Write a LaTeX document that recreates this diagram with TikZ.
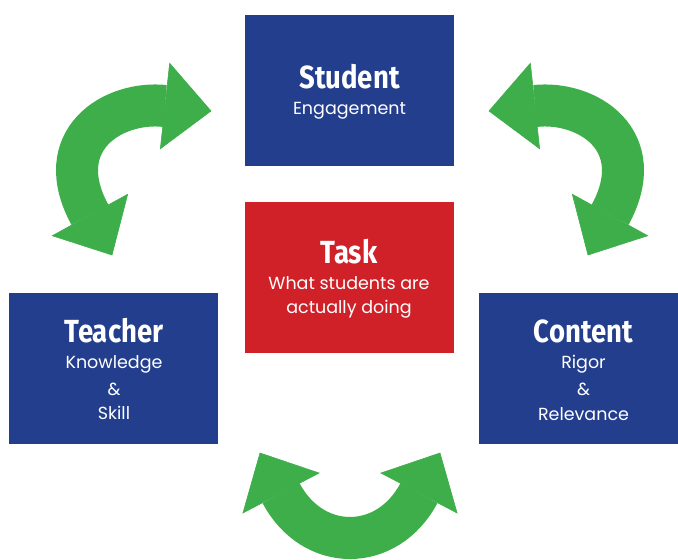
\documentclass[tikz,border=0pt]{standalone}
\usepackage{fontspec}
\setmainfont{Poppins}
\newfontfamily\headfont{Fira Sans}[FakeStretch=0.86]
\usetikzlibrary{calc}
\definecolor{boxblue}{RGB}{35,62,140}
\definecolor{boxred}{RGB}{209,33,40}
\definecolor{arrowgreen}{RGB}{61,174,73}

\begin{document}
\begin{tikzpicture}[x=1pt,y=-1pt,
  panel/.style={fill=#1, draw=none, minimum width=209pt, minimum height=151pt,
    inner sep=0pt, outer sep=0pt},
  heading/.style={text=white, font=\headfont\bfseries\fontsize{32}{32}\selectfont,
    anchor=base, inner sep=0pt},
  caption/.style={text=white, font=\fontsize{17.5}{24}\selectfont,
    anchor=base, inner sep=0pt},
  shaft/.style={draw=arrowgreen, line width=42pt, line cap=butt},
  head/.style={fill=arrowgreen, draw=arrowgreen, line width=0.6pt, line join=miter}
]
\useasboundingbox (0,0) rectangle (678,560);
\clip (0,0) rectangle (678,560);

% the four panels
\node[panel=boxblue] (student) at (349.5,90.5) {};
\node[panel=boxred]  (task)    at (349,277)    {};
\node[panel=boxblue] (teacher) at (113.5,368)  {};
\node[panel=boxblue] (content) at (583.5,368)  {};

% panel texts
\node[heading] (student-h) at (349.5,88) {Student};
\node[caption] (student-c) at (349.5,114) {Engagement};

\node[heading] (task-h)  at (349,263) {Task};
\node[caption] (task-c1) at (349,289) {What students are};
\node[caption] (task-c2) at (349,313) {actually doing};

\node[heading] (teacher-h)  at (114,342) {Teacher};
\node[caption] (teacher-c1) at (114,368) {Knowledge};
\node[caption] (teacher-c2) at (114,395) {\&};
\node[caption] (teacher-c3) at (114,419) {Skill};

\node[heading] (content-h)  at (583.5,342) {Content};
\node[caption] (content-c1) at (583.5,368) {Rigor};
\node[caption] (content-c2) at (583.5,395) {\&};
\node[caption] (content-c3) at (583.5,420) {Relevance};

% bent double-headed arrows: shaft between the two head bases, then the heads
\newcommand\bentarrow[1]{%
  \draw[shaft] (#1-ba) .. controls (#1-c1) and (#1-c2) .. (#1-bb);
  \filldraw[head] (#1-ta) -- ($(#1-ba)!43pt!90:(#1-ta)$) -- ($(#1-ba)!43pt!-90:(#1-ta)$) -- cycle;
  \filldraw[head] (#1-tb) -- ($(#1-bb)!43pt!90:(#1-tb)$) -- ($(#1-bb)!43pt!-90:(#1-tb)$) -- cycle;
}

% teacher <-> student
\coordinate (ts-ta) at (112,255);
\coordinate (ts-ba) at (90,215);
\coordinate (ts-c1) at (49.2,140.2);
\coordinate (ts-c2) at (113,100.3);
\coordinate (ts-bb) at (165,106);
\coordinate (ts-tb) at (211,111);
\bentarrow{ts}

% student <-> content
\coordinate (sc-ta) at (588,255);
\coordinate (sc-ba) at (610,215);
\coordinate (sc-c1) at (650.8,140.2);
\coordinate (sc-c2) at (587,100.3);
\coordinate (sc-bb) at (535,106);
\coordinate (sc-tb) at (489,111);
\bentarrow{sc}

% teacher <-> content (below the task)
\coordinate (tc-ta) at (260,453);
\coordinate (tc-ba) at (281,493);
\coordinate (tc-c1) at (312.7,553);
\coordinate (tc-c2) at (387.3,553);
\coordinate (tc-bb) at (419,493);
\coordinate (tc-tb) at (440,453);
\bentarrow{tc}
\end{tikzpicture}
\end{document}
